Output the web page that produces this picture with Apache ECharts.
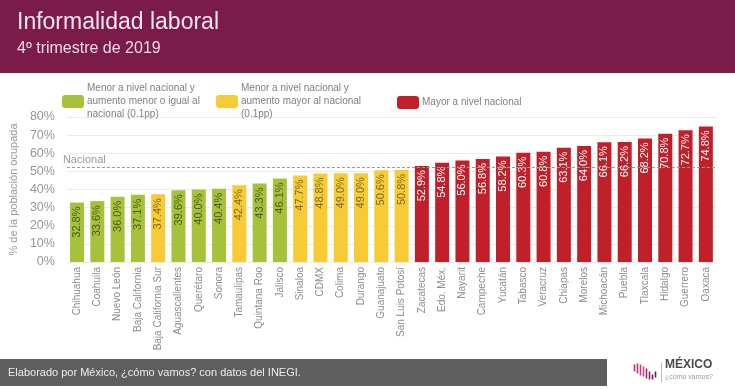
<!DOCTYPE html>
<html><head><meta charset="utf-8">
<script src="https://cdn.jsdelivr.net/npm/echarts@6/dist/echarts.min.js"></script>
<style>html,body{margin:0;padding:0;background:#fff}#c{width:735px;height:389px}</style>
</head><body><div id="c"></div>
<script>
const states = ['Chihuahua','Coahuila','Nuevo León','Baja California','Baja California Sur','Aguascalientes','Querétaro','Sonora','Tamaulipas','Quintana Roo','Jalisco','Sinaloa','CDMX','Colima','Durango','Guanajuato','San Luis Potosí','Zacatecas','Edo. Méx.','Nayarit','Campeche','Yucatán','Tabasco','Veracruz','Chiapas','Morelos','Michoacán','Puebla','Tlaxcala','Hidalgo','Guerrero','Oaxaca'];
const values = [32.8,33.6,36.0,37.1,37.4,39.6,40.0,40.4,42.4,43.3,46.1,47.7,48.8,49.0,49.0,50.6,50.8,52.9,54.8,56.0,56.8,58.2,60.3,60.8,63.1,64.0,66.1,66.2,68.2,70.8,72.7,74.8];
const groups = ['g','g','g','g','y','g','g','g','y','g','g','y','y','y','y','y','y','r','r','r','r','r','r','r','r','r','r','r','r','r','r','r'];
const nacional = 52.2;
const yTicks = [0,10,20,30,40,50,60,70,80];
const groupNames = {
  g: 'Menor a nivel nacional y\naumento menor o igual al\nnacional (0.1pp)',
  y: 'Menor a nivel nacional y\naumento mayor al nacional\n(0.1pp)',
  r: 'Mayor a nivel nacional'
};
const groupColors = {g:'#a5c23a', y:'#f6cb35', r:'#c1202b'};
const labelColors = {g:'#4d5a1e', y:'#7a6a2a', r:'#ffffff'};
const FONT = 'Liberation Sans';

function seriesFor(k){
  return {
    name: groupNames[k], type:'bar', stack:'all', barWidth:14,
    itemStyle:{color:groupColors[k]},
    data: values.map((v,i)=> groups[i]===k ? v : null),
    label:{show:true, position:'insideTop', rotate:90, align:'right', verticalAlign:'middle', distance:4,
      color:labelColors[k], fontSize:11, fontFamily:FONT,
      formatter:p=> p.value==null ? '' : p.value.toFixed(1)+'%'},
    emphasis:{disabled:true}
  };
}
const series = ['g','y','r'].map(seriesFor);
series[0].markLine = {
  silent:true, symbol:'none',
  lineStyle:{color:'#9a9a9a', type:[3,2], width:1},
  label:{show:true, position:'insideStartTop', formatter:'Nacional', color:'#999', fontSize:11, fontFamily:FONT, distance:[-4,2]},
  data:[{yAxis:nacional}]
};

const legendBase = {itemWidth:22, itemHeight:13, itemGap:0, selectedMode:false,
  textStyle:{color:'#808080', fontSize:10, lineHeight:13, fontFamily:FONT, padding:[0,0,0,-2]}};

const chart = echarts.init(document.getElementById('c'));
chart.setOption({
  animation:false,
  textStyle:{fontFamily:FONT},
  grid:{left:65, right:19, top:117, bottom:127},
  legend:[
    Object.assign({data:[groupNames.g], left:57, top:77}, legendBase),
    Object.assign({data:[groupNames.y], left:211, top:77}, legendBase),
    Object.assign({data:[groupNames.r], left:392, top:91}, legendBase)
  ],
  xAxis:{type:'category', data:states,
    axisLine:{show:false}, axisTick:{show:false},
    axisLabel:{rotate:90, interval:0, color:'#8c8c8c', fontSize:10, fontFamily:FONT, margin:5}},
  yAxis:{type:'value', min:0, max:80, interval:10,
    name:'% de la población ocupada', nameLocation:'middle', nameGap:46,
    nameTextStyle:{color:'#9a9a9a', fontSize:11, fontFamily:FONT},
    axisLabel:{formatter:v=> yTicks.includes(v) ? v+'%' : '', color:'#969696', fontSize:12.5, fontFamily:FONT, margin:12},
    splitLine:{lineStyle:{color:'#ececec'}}},
  series: series,
  graphic:[
    {type:'rect', shape:{x:0,y:0,width:735,height:73}, style:{fill:'#7b1b4a'}, z:-1},
    {type:'text', left:17, top:11, style:{text:'Informalidad laboral', fill:'#f3e6ee', font:'23px "Liberation Sans"'}},
    {type:'text', left:17, top:41, style:{text:'4º trimestre de 2019', fill:'#eadbe4', font:'16px "Liberation Sans"'}},
    {type:'rect', shape:{x:0,y:359,width:607,height:27}, style:{fill:'#5e5e5e'}},
    {type:'text', left:8, top:367, style:{text:'Elaborado por México, ¿cómo vamos? con datos del INEGI.', fill:'#eeeeee', font:'11px "Liberation Sans"'}},
    {type:'group', left:632, top:360, children:[
      {type:'line', shape:{x1:1,y1:2,x2:1,y2:9}, style:{stroke:'#b0307a', lineWidth:1.6}},
      {type:'line', shape:{x1:4,y1:1,x2:4,y2:11}, style:{stroke:'#b7357f', lineWidth:1.6}},
      {type:'line', shape:{x1:7,y1:2,x2:7,y2:13}, style:{stroke:'#c03d86', lineWidth:1.6}},
      {type:'line', shape:{x1:10,y1:4,x2:10,y2:14}, style:{stroke:'#c8458d', lineWidth:1.6}},
      {type:'line', shape:{x1:13,y1:6,x2:13,y2:16}, style:{stroke:'#a02a6e', lineWidth:1.6}},
      {type:'line', shape:{x1:16,y1:9,x2:16,y2:17}, style:{stroke:'#8a2260', lineWidth:1.6}},
      {type:'line', shape:{x1:19,y1:12,x2:19,y2:17}, style:{stroke:'#7a1b55', lineWidth:1.6}},
      {type:'line', shape:{x1:22,y1:9,x2:22,y2:15}, style:{stroke:'#6a1a4a', lineWidth:1.6}},
      {type:'line', shape:{x1:28,y1:0,x2:28,y2:20}, style:{stroke:'#bbbbbb', lineWidth:1}}
    ]},
    {type:'text', left:665, top:359, style:{text:'MÉXICO', fill:'#4a4a4a', font:'bold 12px "Liberation Sans"'}},
    {type:'text', left:665, top:374, style:{text:'¿cómo vamos?', fill:'#999', font:'7px "Liberation Sans"'}}
  ]
});
</script></body></html>
